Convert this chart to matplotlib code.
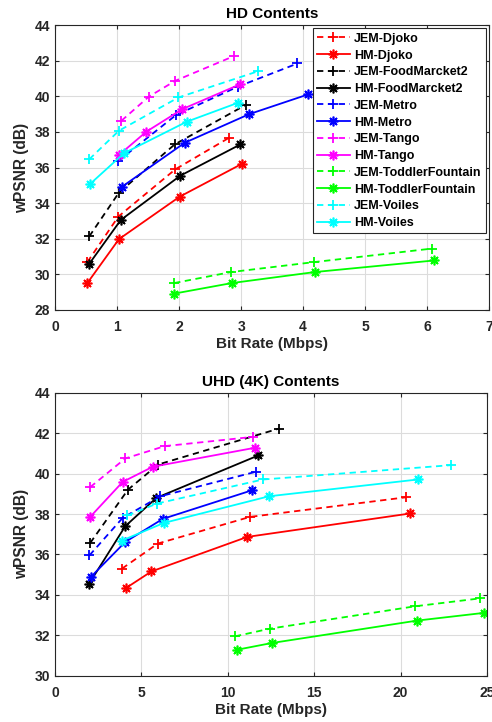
import matplotlib

matplotlib.use("Agg")
matplotlib.rcParams["font.family"] = ["Liberation Sans", "DejaVu Sans"]
matplotlib.rcParams["font.weight"] = "bold"
import matplotlib.pyplot as plt

# sequence names and colours (MATLAB defaults)
names = ["Djoko", "FoodMarcket2", "Metro", "Tango", "ToddlerFountain", "Voiles"]
colors = ["#FF0000", "#000000", "#0000FF", "#FF00FF", "#00FF00", "#00FFFF"]

# HD contents: bit rate (Mbps) and wPSNR (dB)
hd_jem_rate = [
    [0.52, 1.02, 1.94, 2.81],
    [0.55, 1.03, 1.93, 3.08],
    [1.02, 1.95, 2.95, 3.91],
    [1.07, 1.51, 1.94, 2.88],
    [1.92, 2.84, 4.18, 6.08],
    [0.55, 1.03, 1.99, 3.28],
]
hd_jem_psnr = [
    [30.68, 33.24, 35.90, 37.68],
    [32.12, 34.59, 37.30, 39.53],
    [36.37, 38.95, 40.55, 41.85],
    [38.63, 39.98, 40.88, 42.26],
    [29.50, 30.12, 30.68, 31.44],
    [36.46, 38.07, 39.94, 41.42],
]
hd_hm_rate = [
    [0.52, 1.03, 2.01, 3.01],
    [0.55, 1.06, 2.02, 2.99],
    [1.08, 2.09, 3.13, 4.08],
    [1.03, 1.47, 2.05, 2.99],
    [1.91, 2.85, 4.19, 6.11],
    [0.56, 1.11, 2.12, 2.95],
]
hd_hm_psnr = [
    [29.50, 31.97, 34.36, 36.20],
    [30.58, 33.05, 35.54, 37.30],
    [34.92, 37.39, 39.00, 40.11],
    [36.70, 38.01, 39.28, 40.69],
    [28.90, 29.50, 30.12, 30.77],
    [35.06, 36.80, 38.57, 39.64],
]

# UHD (4K) contents
uhd_jem_rate = [
    [3.87, 5.94, 11.28, 20.31],
    [2.03, 4.22, 5.96, 12.96],
    [1.99, 3.91, 6.09, 11.61],
    [2.03, 4.06, 6.34, 11.47],
    [10.41, 12.42, 20.85, 24.60],
    [4.18, 5.90, 12.03, 22.92],
]
uhd_jem_psnr = [
    [35.30, 36.54, 37.86, 38.83],
    [36.57, 39.21, 40.45, 42.23],
    [35.96, 37.81, 38.88, 40.09],
    [39.33, 40.75, 41.36, 41.82],
    [31.95, 32.33, 33.44, 33.83],
    [37.93, 38.52, 39.71, 40.42],
]
uhd_hm_rate = [
    [4.12, 5.57, 11.12, 20.56],
    [1.97, 4.06, 5.86, 11.76],
    [2.07, 4.06, 6.23, 11.41],
    [2.03, 3.91, 5.65, 11.57],
    [10.54, 12.53, 20.95, 24.80],
    [3.87, 6.29, 12.38, 20.99],
]
uhd_hm_psnr = [
    [34.35, 35.16, 36.87, 38.03],
    [34.56, 37.40, 38.80, 40.90],
    [34.89, 36.62, 37.76, 39.18],
    [37.86, 39.59, 40.34, 41.28],
    [31.29, 31.62, 32.73, 33.11],
    [36.69, 37.56, 38.88, 39.71],
]

asterisk = (8, 2, 0)


def draw(ax, jem_r, jem_p, hm_r, hm_p, title, xlim, xticks, ylim, yticks):
    for i, name in enumerate(names):
        ax.plot(jem_r[i], jem_p[i], "--", color=colors[i], marker="+", ms=7, mew=1.3,
                lw=1.3, label="JEM-" + name, dashes=(3.5, 2.5))
        ax.plot(hm_r[i], hm_p[i], "-", color=colors[i], marker=asterisk, ms=7, mew=1.2,
                lw=1.3, label="HM-" + name)
    ax.set_xlim(*xlim)
    ax.set_ylim(*ylim)
    ax.set_xticks(xticks)
    ax.set_yticks(yticks)
    ax.grid(True, color="#DCDCDC", lw=0.8)
    ax.set_axisbelow(True)
    ax.tick_params(direction="in", length=3, labelsize=10, colors="#262626",
                   top=True, right=True)
    ax.tick_params(axis="x", pad=7.5)
    ax.tick_params(axis="y", pad=3.5)
    for lab in ax.get_xticklabels() + ax.get_yticklabels():
        lab.set_fontweight("bold")
    for s in ax.spines.values():
        s.set_color("#262626")
        s.set_linewidth(0.8)
    ax.set_title(title, fontsize=11, fontweight="bold", pad=5)
    ax.set_xlabel("Bit Rate (Mbps)", fontsize=11, fontweight="bold", color="#262626", labelpad=2)
    ax.set_ylabel("wPSNR (dB)", fontsize=11.2, fontweight="bold", color="#262626", labelpad=4)


fig = plt.figure(figsize=(4.92, 7.22), dpi=100)
ax1 = fig.add_axes([0.112, 0.571, 0.882, 0.394])
ax2 = fig.add_axes([0.112, 0.064, 0.878, 0.392])

draw(ax1, hd_jem_rate, hd_jem_psnr, hd_hm_rate, hd_hm_psnr, "HD Contents",
     (0, 7), range(0, 8), (28, 44), range(28, 45, 2))
draw(ax2, uhd_jem_rate, uhd_jem_psnr, uhd_hm_rate, uhd_hm_psnr, "UHD (4K) Contents",
     (0, 25), range(0, 26, 5), (30, 44), range(30, 45, 2))

leg = ax1.legend(loc="upper right", fontsize=9.0, handlelength=2.6, handletextpad=0.35,
                 labelspacing=0.38, borderpad=0.35, fancybox=False, framealpha=1,
                 edgecolor="#262626", borderaxespad=0.25)
leg.get_frame().set_linewidth(0.8)
for t in leg.get_texts():
    t.set_fontweight("bold")

fig.savefig("out.png", dpi=100, facecolor="white")
